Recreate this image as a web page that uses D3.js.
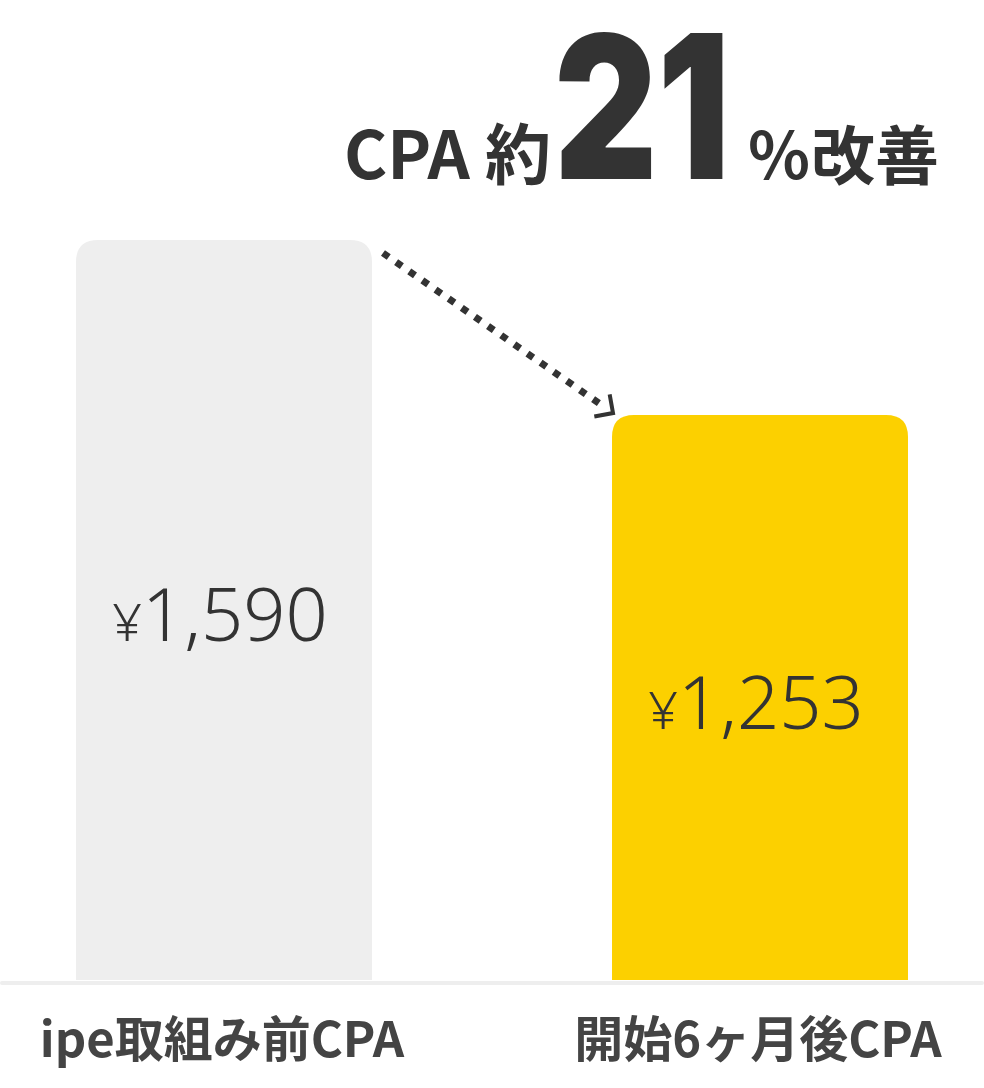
<!DOCTYPE html>
<html>
<head>
<meta charset="utf-8">
<script src="https://cdn.jsdelivr.net/npm/d3@7"></script>
<style>
  html, body { margin: 0; padding: 0; background: #fff; }
  svg { display: block; }
</style>
</head>
<body>
<div id="chart"></div>
<script>
// data
var categories = ["ipe取組み前CPA", "開始6ヶ月後CPA"];
var values = [1590, 1253];
var valueLabels = ["1,590", "1,253"];
var barColors = ["#eeeeee", "#fcd000"];
var titleParts = ["CPA 約", "21", "％改善"];

var W = 984, H = 1088;
var baseY = 980;

var svg = d3.select("#chart").append("svg")
    .attr("width", W).attr("height", H);

var x = d3.scaleBand()
    .domain(categories)
    .range([0, W])
    .paddingInner(0.4478)
    .paddingOuter(0.1418);

var y = d3.scaleLinear()
    .domain([0, d3.max(values)])
    .range([1066, 240]);

// baseline
svg.append("line")
    .attr("x1", 2).attr("x2", W - 2)
    .attr("y1", baseY + 3).attr("y2", baseY + 3)
    .attr("stroke", "#eeeeee")
    .attr("stroke-width", 4)
    .attr("stroke-linecap", "round");

// bar with rounded top corners
function topRounded(x0, y0, w, h, r) {
  return "M" + x0 + "," + (y0 + h) +
    "V" + (y0 + r) +
    "Q" + x0 + "," + y0 + " " + (x0 + r) + "," + y0 +
    "H" + (x0 + w - r) +
    "Q" + (x0 + w) + "," + y0 + " " + (x0 + w) + "," + (y0 + r) +
    "V" + (y0 + h) + "Z";
}

var bw = x.bandwidth();

svg.selectAll(".bar")
  .data(values)
  .enter().append("path")
    .attr("class", "bar")
    .attr("fill", function(d, i) { return barColors[i]; })
    .attr("d", function(d, i) {
      var top = y(d);
      return topRounded(x(categories[i]), top, bw, baseY - top, 22);
    });

// value labels
var vl = svg.selectAll(".val")
  .data(values)
  .enter().append("text")
    .attr("class", "val")
    .attr("x", function(d, i) { return x(categories[i]) + bw / 2 - 4; })
    .attr("y", function(d) { return (y(d) + baseY) / 2 + 31; })
    .attr("text-anchor", "middle")
    .attr("fill", "#333")
    .style("font-family", "'Noto Sans', sans-serif")
    .style("font-weight", 300);
vl.append("tspan")
    .style("font-size", "52px")
    .text("¥");
vl.append("tspan")
    .style("font-size", "74px")
    .text(function(d, i) { return valueLabels[i]; });

// category labels
svg.selectAll(".cat")
  .data(categories)
  .enter().append("text")
    .attr("class", "cat")
    .attr("x", function(d) { return x(d) + bw / 2 - 2; })
    .attr("y", 1057)
    .attr("text-anchor", "middle")
    .attr("fill", "#444")
    .style("font-family", "'Noto Sans CJK JP', sans-serif")
    .style("font-weight", 700)
    .style("font-size", "49px")
    .text(function(d) { return d; });

// dotted arrow between bar tops
var x0 = x(categories[0]) + bw + 11, y0 = y(values[0]) + 13;
var x1 = x(categories[1]) + 1, y1 = y(values[1]) - 2;
var ang = Math.atan2(y1 - y0, x1 - x0);
var len = Math.hypot(x1 - x0, y1 - y0);

svg.append("line")
    .attr("x1", x0).attr("y1", y0)
    .attr("x2", x0 + Math.cos(ang) * (len - 12))
    .attr("y2", y0 + Math.sin(ang) * (len - 12))
    .attr("stroke", "#333")
    .attr("stroke-width", 7)
    .attr("stroke-dasharray", "7 9");

var arm = 19, spread = Math.PI / 4;
svg.append("path")
    .attr("d", "M" + (x1 - Math.cos(ang - spread) * arm) + "," + (y1 - Math.sin(ang - spread) * arm) +
               "L" + x1 + "," + y1 +
               "L" + (x1 - Math.cos(ang + spread) * arm) + "," + (y1 - Math.sin(ang + spread) * arm))
    .attr("fill", "none")
    .attr("stroke", "#333")
    .attr("stroke-width", 4);

// headline, three pieces
var head = svg.append("g").attr("fill", "#333");
head.append("text")
    .attr("x", 344).attr("y", 179)
    .style("font-family", "'Noto Sans CJK JP', sans-serif")
    .style("font-weight", 700)
    .style("font-size", "66px")
    .text(titleParts[0]);
head.append("text")
    .attr("transform", "translate(554,179) scale(0.8,1)")
    .style("font-family", "Inter, Roboto, sans-serif")
    .style("font-weight", 900)
    .style("font-size", "200px")
    .text(titleParts[1]);
head.append("text")
    .attr("x", 747).attr("y", 179)
    .style("font-family", "'Noto Sans CJK JP', sans-serif")
    .style("font-weight", 700)
    .style("font-size", "64px")
    .text(titleParts[2]);
</script>
</body>
</html>
